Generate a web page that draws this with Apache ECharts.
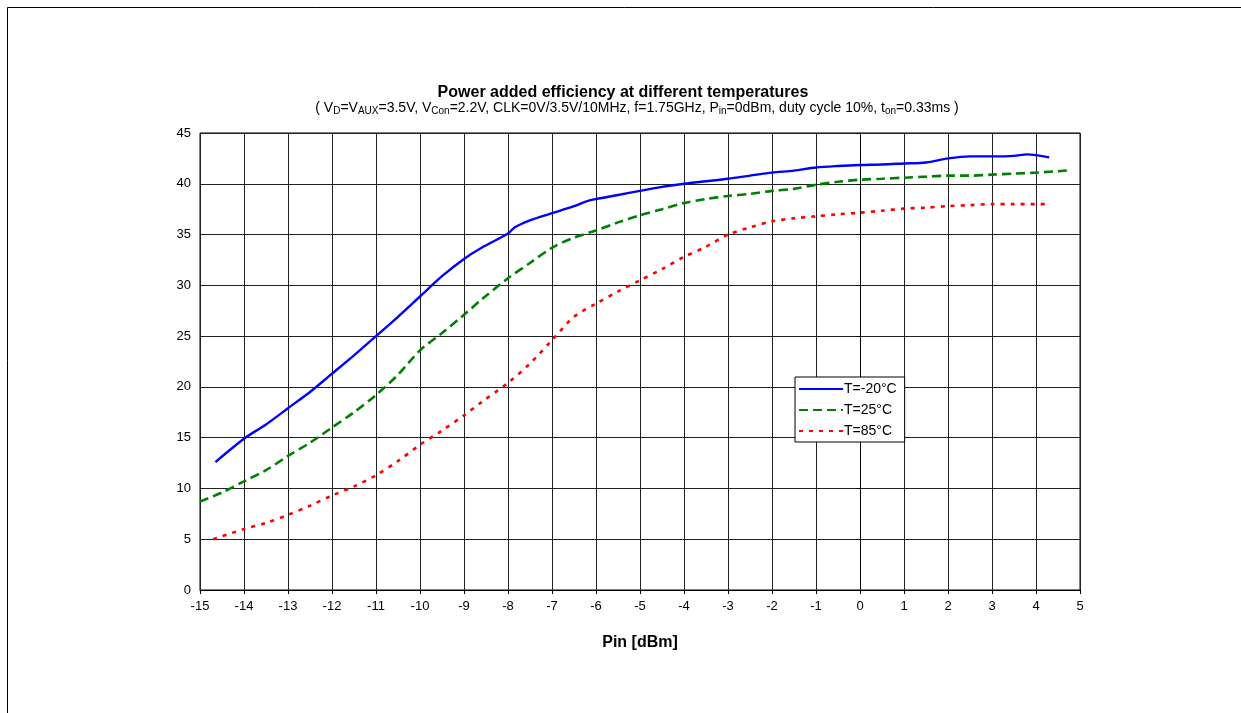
<!DOCTYPE html>
<html>
<head>
<meta charset="utf-8">
<script src="https://cdn.jsdelivr.net/npm/echarts@6/dist/echarts.min.js"></script>
<style>
html,body{margin:0;padding:0;background:#fff;}
#chart{width:1241px;height:713px;}
</style>
</head>
<body>
<div id="chart"></div>
<script>
// ---- data ----
var xTicks = [-15, 5, 1];
var yTicks = [0, 45, 5];
var seriesNames = ['T=-20°C', 'T=25°C', 'T=85°C'];

var coldX = [-14.65,-14,-13.5,-13,-12.5,-12,-11.5,-11,-10.5,-10,-9.5,-9,-8.6,-8,-7.85,-7.5,-7,-6.5,-6.2,-6,-5.5,-5,-4.5,-4,-3.5,-3,-2.5,-2,-1.5,-1,-0.5,0,0.5,1,1.5,2,2.5,3,3.5,3.8,4.3];
var coldY = [12.6,14.9,16.3,17.9,19.5,21.3,23.1,25.0,26.9,28.9,30.9,32.6,33.7,35.1,35.7,36.4,37.1,37.8,38.3,38.5,38.9,39.3,39.7,40.0,40.25,40.5,40.8,41.1,41.3,41.6,41.75,41.85,41.9,42.0,42.1,42.5,42.7,42.7,42.75,42.9,42.6];

var roomX = [-15,-14.5,-14,-13.5,-13,-12.5,-12,-11.5,-11,-10.5,-10,-9.5,-9,-8.6,-8,-7.5,-7,-6.5,-6,-5.5,-5,-4.5,-4,-3.5,-3,-2.5,-2,-1.5,-1,-0.5,0,0.5,1,1.5,2,2.5,3,3.5,4,4.7];
var roomY = [8.7,9.6,10.7,11.8,13.2,14.5,16.0,17.5,19.2,21.2,23.6,25.3,27.1,28.6,30.7,32.2,33.7,34.7,35.4,36.2,36.9,37.5,38.1,38.5,38.8,39.0,39.3,39.5,39.9,40.2,40.4,40.5,40.6,40.7,40.8,40.8,40.9,41.0,41.1,41.3];

var hotX = [-14.7,-14,-13.5,-13,-12.5,-12,-11.5,-11,-10.5,-10,-9.5,-9,-8.6,-8,-7.5,-7,-6.5,-6,-5.5,-5,-4.5,-4,-3.5,-3,-2.5,-2,-1.5,-1,-0.5,0,0.5,1,1.5,2,2.5,3,3.5,4.2];
var hotY = [5.0,6.0,6.6,7.4,8.3,9.3,10.2,11.3,12.7,14.3,15.7,17.2,18.5,20.4,22.3,24.6,26.9,28.2,29.4,30.5,31.6,32.8,33.8,35.0,35.7,36.3,36.6,36.8,37.0,37.15,37.35,37.55,37.65,37.8,37.9,38.0,38.0,38.0];

function pairs(xs, ys){ return xs.map(function(x,i){ return [x, ys[i]]; }); }

var FONT = 'Liberation Sans, Arial, sans-serif';
var chart = echarts.init(document.getElementById('chart'), null, {renderer:'canvas'});

var option = {
  backgroundColor: '#fff',
  animation: false,
  graphic: [{
    type: 'rect', silent: true,
    shape: {x: 7.5, y: 7.5, width: 1260, height: 720},
    style: {fill: 'none', stroke: '#000', lineWidth: 1}
  }],
  title: [{
    text: 'Power added efficiency at different temperatures',
    left: 618, top: 80, textAlign: 'center',
    textStyle: {fontFamily: FONT, fontSize: 16, fontWeight: 'bold', color: '#000'}
  }, {
    text: '( V{s|D}=V{s|AUX}=3.5V, V{s|Con}=2.2V, CLK=0V/3.5V/10MHz, f=1.75GHz, P{s|in}=0dBm, duty cycle 10%, t{s|on}=0.33ms )',
    left: 632, top: 96, textAlign: 'center',
    textStyle: {
      fontFamily: FONT, fontSize: 14, fontWeight: 'normal', color: '#000', lineHeight: 15,
      rich: {s: {fontFamily: FONT, fontSize: 10, color: '#000', verticalAlign: 'bottom', lineHeight: 11, padding: [5,0,0,0]}}
    }
  }],
  legend: {
    show: true,
    orient: 'vertical',
    left: 795, top: 377,
    padding: [5, 8, 4, 3],
    itemWidth: 44, itemHeight: 15, itemGap: 7,
    backgroundColor: '#fff',
    borderColor: '#000', borderWidth: 1,
    itemStyle: {opacity: 0, borderWidth: 0},
    textStyle: {fontFamily: FONT, fontSize: 14, color: '#000', padding: [0, 0, 0, -4]},
    data: seriesNames
  },
  grid: {left: 200, right: 161, top: 133, bottom: 123, show: true, borderColor: '#000', borderWidth: 1},
  xAxis: {
    type: 'value', min: xTicks[0], max: xTicks[1], interval: xTicks[2],
    name: 'Pin [dBm]', nameLocation: 'middle', nameGap: 45,
    nameTextStyle: {fontFamily: FONT, fontSize: 16, fontWeight: 'bold', color: '#000'},
    axisLine: {show: true, lineStyle: {color: '#000', width: 1}},
    axisTick: {show: true, length: 4, inside: false, lineStyle: {color: '#000'}},
    axisLabel: {fontFamily: FONT, fontSize: 13, color: '#000', margin: 10},
    splitLine: {show: true, lineStyle: {color: '#222', width: 1}}
  },
  yAxis: {
    type: 'value', min: yTicks[0], max: yTicks[1], interval: yTicks[2],
    axisLine: {show: true, lineStyle: {color: '#000', width: 1}},
    axisTick: {show: true, length: 4, inside: false, lineStyle: {color: '#000'}},
    axisLabel: {fontFamily: FONT, fontSize: 13, color: '#000', margin: 9},
    splitLine: {show: true, lineStyle: {color: '#222', width: 1}}
  },
  series: [{
    name: seriesNames[0], type: 'line', symbol: 'none', smooth: 0.3,
    lineStyle: {color: '#0000FF', width: 2.4, type: 'solid'},
    itemStyle: {color: '#0000FF'},
    data: pairs(coldX, coldY)
  }, {
    name: seriesNames[1], type: 'line', symbol: 'none', smooth: 0.3,
    lineStyle: {color: '#008000', width: 2.6, type: [9, 5]},
    itemStyle: {color: '#008000'},
    data: pairs(roomX, roomY)
  }, {
    name: seriesNames[2], type: 'line', symbol: 'none', smooth: 0.3,
    lineStyle: {color: '#FF0000', width: 2.6, type: [4, 6]},
    itemStyle: {color: '#FF0000'},
    data: pairs(hotX, hotY)
  }]
};
chart.setOption(option);
</script>
</body>
</html>
